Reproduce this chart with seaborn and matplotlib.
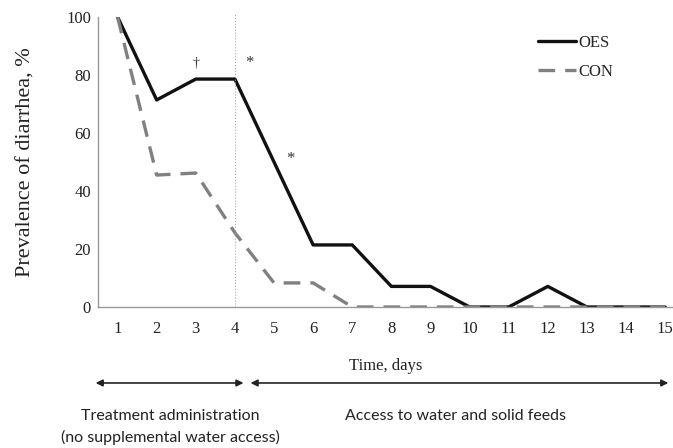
import pandas as pd
import matplotlib.pyplot as plt
import matplotlib.transforms as mtransforms
import seaborn as sns

days = list(range(1, 16))
oes = [100, 71.4, 78.6, 78.6, 50.0, 21.4, 21.4, 7.1, 7.1, 0, 0, 7.1, 0, 0, 0]
con = [100, 45.5, 46.2, 25.6, 8.3, 8.3, 0, 0, 0, 0, 0, 0, 0, 0, 0]

df = pd.concat([
    pd.DataFrame({'day': days, 'prev': oes, 'group': 'OES'}),
    pd.DataFrame({'day': days, 'prev': con, 'group': 'CON'}),
])

sns.set_theme(style="white")
plt.rcParams['font.family'] = ['Liberation Serif', 'DejaVu Serif']

fig = plt.figure(figsize=(6.73, 4.48), dpi=100)
ax = fig.add_axes([98 / 673, 141 / 448, 1 - 98 / 673, 290 / 448])

sns.lineplot(data=df[df.group == 'OES'], x='day', y='prev', ax=ax,
             color='#111111', lw=2.4, label='OES')
sns.lineplot(data=df[df.group == 'CON'], x='day', y='prev', ax=ax,
             color='#808080', lw=2.4, label='CON', dashes=False)
ax.lines[1].set_dashes([5, 3])

ax.axvline(4, ymin=0, ymax=1.015, color='#aaaaaa', lw=0.8, ls=':', clip_on=False)

ax.set_xlim(0.5, 15.2)
ax.set_ylim(0, 100)
ax.set_xticks(days)
ax.set_yticks([0, 20, 40, 60, 80, 100])
ax.tick_params(axis='both', length=0, labelsize=12, labelcolor='#222222')
ax.tick_params(axis='x', pad=10)
ax.tick_params(axis='y', pad=5)
for s in ['top', 'right']:
    ax.spines[s].set_visible(False)
for s in ['left', 'bottom']:
    ax.spines[s].set_color('#999999')
    ax.spines[s].set_linewidth(1.0)

ax.set_ylabel('Prevalence of diarrhea, %', fontsize=16, color='#222222', labelpad=22)
ax.set_xlabel('Time, days', fontsize=12, color='#222222', labelpad=15)

# significance marks
ax.text(3, 84, '†', ha='center', va='center', fontsize=10, color='#333333')
ax.text(4.37, 84, '*', ha='center', va='center', fontsize=12, color='#333333')
ax.text(5.42, 51, '*', ha='center', va='center', fontsize=12, color='#333333')

leg = ax.legend(loc='upper left', bbox_to_anchor=(0.739, 0.99), frameon=False,
                handlelength=2.3, handletextpad=0.1, fontsize=12, labelspacing=0.8)

# period arrows under the axis
trans = mtransforms.blended_transform_factory(ax.transData, ax.transAxes)
arrow_y = -0.262
for x0, x1 in [(0.44, 4.22), (4.40, 15.08)]:
    ax.annotate('', xy=(x0, arrow_y), xytext=(x1, arrow_y), xycoords=trans,
                textcoords=trans, annotation_clip=False,
                arrowprops=dict(arrowstyle='<|-|>', color='#222222', lw=1.2,
                                mutation_scale=10, shrinkA=0, shrinkB=0))

sans = ['Lato', 'DejaVu Sans']
ax.text(2.35, -0.375, 'Treatment administration', transform=trans, ha='center',
        va='center', fontsize=11.5, family=sans, color='#222222')
ax.text(2.35, -0.45, '(no supplemental water access)', transform=trans, ha='center',
        va='center', fontsize=11.5, family=sans, color='#222222')
ax.text(9.64, -0.375, 'Access to water and solid feeds', transform=trans, ha='center',
        va='center', fontsize=11.5, family=sans, color='#222222')

fig.savefig('out.png', dpi=100)
